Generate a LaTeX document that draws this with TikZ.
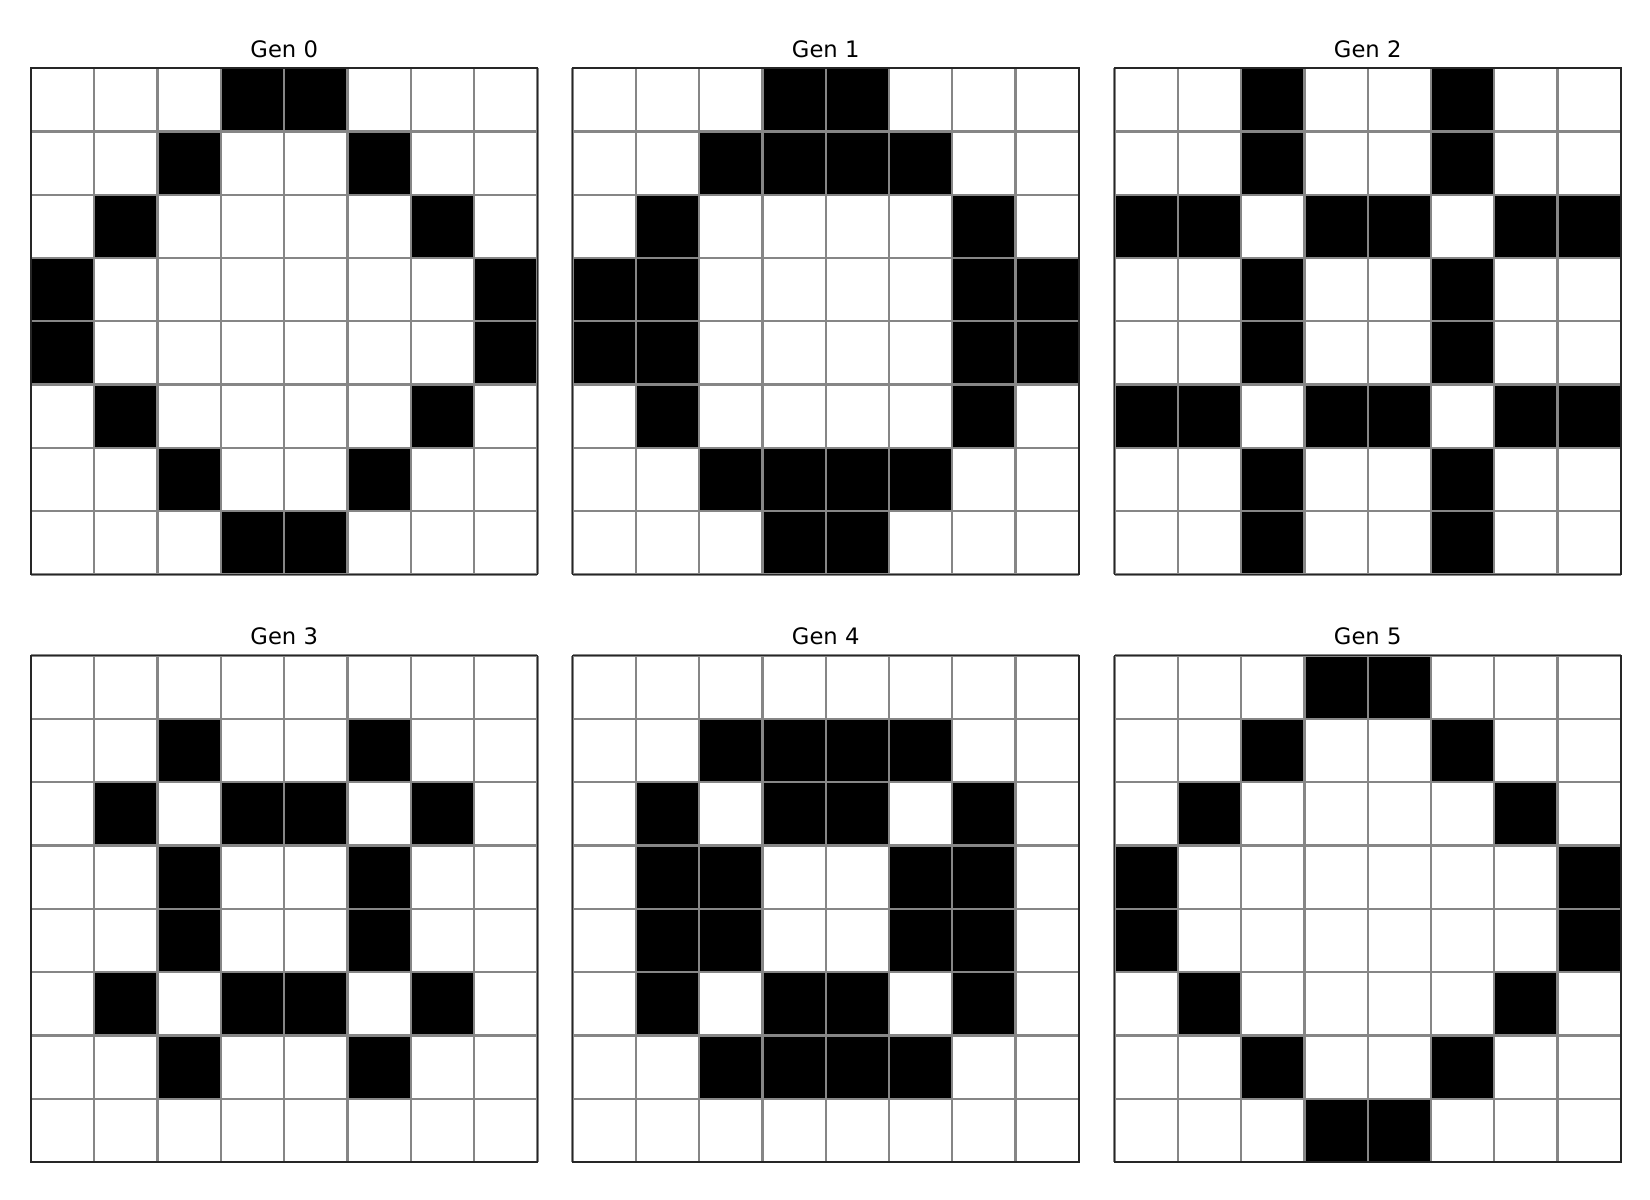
\documentclass[tikz,border=0pt]{standalone}
\usepackage{fontspec}
\setmainfont{DejaVu Sans}
\begin{document}
\begin{tikzpicture}[cellline/.style={draw=gray!95,line width=1.3pt},
                    frameline/.style={draw=black!85,line width=0.95pt},
                    gentitle/.style={anchor=base,font=\fontsize{12.9}{15.5}\selectfont}]
                \useasboundingbox (0,0) rectangle (33,24);
                % Gen 0
                \begin{scope}[shift={(0.62,12.51)},scale=1.266]
                    \foreach \r/\c in {0/3,0/4,1/2,1/5,2/1,2/6,3/0,3/7,4/0,4/7,5/1,5/6,6/2,6/5,7/3,7/4}
                        \fill[black] (\c,{7-\r}) rectangle ++(1,1);
                    \draw[cellline] (0,0) grid (8,8);
                    \draw[frameline] (0,0) rectangle (8,8);
                    \node[gentitle] (gen0) at (4,8.17) {Gen 0};
                \end{scope}
                % Gen 1
                \begin{scope}[shift={(11.45,12.51)},scale=1.266]
                    \foreach \r/\c in {0/3,0/4,1/2,1/3,1/4,1/5,2/1,2/6,3/0,3/1,3/6,3/7,4/0,4/1,4/6,4/7,5/1,5/6,6/2,6/3,6/4,6/5,7/3,7/4}
                        \fill[black] (\c,{7-\r}) rectangle ++(1,1);
                    \draw[cellline] (0,0) grid (8,8);
                    \draw[frameline] (0,0) rectangle (8,8);
                    \node[gentitle] (gen1) at (4,8.17) {Gen 1};
                \end{scope}
                % Gen 2
                \begin{scope}[shift={(22.29,12.51)},scale=1.266]
                    \foreach \r/\c in {0/2,0/5,1/2,1/5,2/0,2/1,2/3,2/4,2/6,2/7,3/2,3/5,4/2,4/5,5/0,5/1,5/3,5/4,5/6,5/7,6/2,6/5,7/2,7/5}
                        \fill[black] (\c,{7-\r}) rectangle ++(1,1);
                    \draw[cellline] (0,0) grid (8,8);
                    \draw[frameline] (0,0) rectangle (8,8);
                    \node[gentitle] (gen2) at (4,8.17) {Gen 2};
                \end{scope}
                % Gen 3
                \begin{scope}[shift={(0.62,0.76)},scale=1.266]
                    \foreach \r/\c in {1/2,1/5,2/1,2/3,2/4,2/6,3/2,3/5,4/2,4/5,5/1,5/3,5/4,5/6,6/2,6/5}
                        \fill[black] (\c,{7-\r}) rectangle ++(1,1);
                    \draw[cellline] (0,0) grid (8,8);
                    \draw[frameline] (0,0) rectangle (8,8);
                    \node[gentitle] (gen3) at (4,8.17) {Gen 3};
                \end{scope}
                % Gen 4
                \begin{scope}[shift={(11.45,0.76)},scale=1.266]
                    \foreach \r/\c in {1/2,1/3,1/4,1/5,2/1,2/3,2/4,2/6,3/1,3/2,3/5,3/6,4/1,4/2,4/5,4/6,5/1,5/3,5/4,5/6,6/2,6/3,6/4,6/5}
                        \fill[black] (\c,{7-\r}) rectangle ++(1,1);
                    \draw[cellline] (0,0) grid (8,8);
                    \draw[frameline] (0,0) rectangle (8,8);
                    \node[gentitle] (gen4) at (4,8.17) {Gen 4};
                \end{scope}
                % Gen 5
                \begin{scope}[shift={(22.29,0.76)},scale=1.266]
                    \foreach \r/\c in {0/3,0/4,1/2,1/5,2/1,2/6,3/0,3/7,4/0,4/7,5/1,5/6,6/2,6/5,7/3,7/4}
                        \fill[black] (\c,{7-\r}) rectangle ++(1,1);
                    \draw[cellline] (0,0) grid (8,8);
                    \draw[frameline] (0,0) rectangle (8,8);
                    \node[gentitle] (gen5) at (4,8.17) {Gen 5};
                \end{scope}
            \end{tikzpicture}
\end{document}
